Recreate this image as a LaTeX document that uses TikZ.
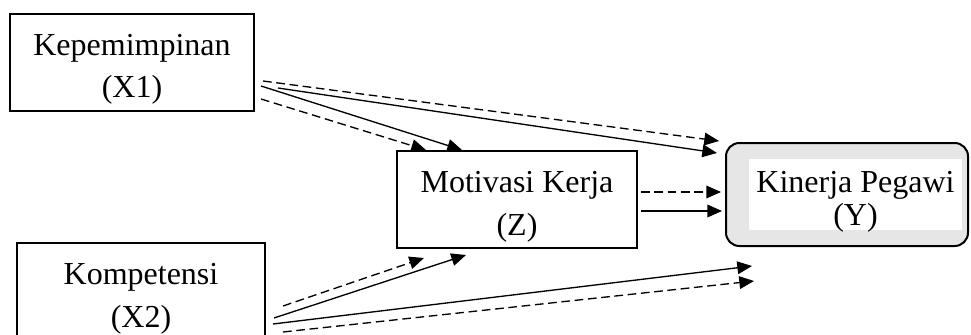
\documentclass[tikz,border=0pt]{standalone}
\usepackage{fontspec}
\setmainfont{Liberation Serif}
\usepackage{xcolor}
\definecolor{ink}{RGB}{0,0,0}
\definecolor{shade}{RGB}{230,230,230}
\usepackage{tikz}
\usetikzlibrary{arrows.meta,calc}
\tikzset{
  %% Variable boxes
  varbox/.style={
    draw=ink, line width=1.5pt, fill=white,
    align=center, font=\fontsize{24}{32}\selectfont,
    inner xsep=0pt, inner ysep=0pt,
    minimum height=72.75pt, text height=63pt, text depth=9.75pt,
  },
  %% Dependent variable box
  outbox/.style={
    draw=ink, line width=1.5pt, fill=shade,
    rounded corners=10pt,
    minimum width=181.5pt, minimum height=77.25pt,
  },
  outtext/.style={
    fill=white, align=center, font=\fontsize{24}{24.75}\selectfont,
    inner sep=0pt, minimum width=159.75pt,
    text height=49.5pt, text depth=3.75pt,
  },
  %% Paths
  link/.style={draw=ink, line width=1pt, -{Triangle[length=11pt,width=9.5pt]}},
  linkd/.style={link, dash pattern=on 6.5pt off 3.5pt},
}

\begin{document}
\begin{tikzpicture}[x=0.75pt,y=-0.75pt]
\clip (0,0) rectangle (971,335);

\node[varbox,minimum width=183pt] (X1) at (132,62.5) {Kepemimpinan\\(X1)};
\node[varbox,minimum width=180pt] (Z) at (517,199.5) {Motivasi Kerja\\(Z)};
\node[varbox,minimum width=186pt] (X2) at (141,291.5) {Kompetensi\\(X2)};
\node[outbox] (Y) at (847,194.5) {};
\node[outtext] (Yin) at (855.5,194.5) {Kinerja Pegawi\\(Y)};

\coordinate (free1) at ($(Y.south west)+(27,19)$);
\coordinate (free2) at ($(Y.south west)+(29,34)$);

%% X1
\draw[linkd] ($(X1.south east)+(6,-13)$) -- ($(Z.north west)+(30,0)$);
\draw[link]  ($(X1.south east)+(6,-26)$) -- ($(Z.north west)+(66,0)$);
\draw[linkd] ($(X1.south east)+(8,-31)$) -- ($(Y.north west)+(-6,-1)$);
\draw[link]  ($(X1.south east)+(23,-24)$) -- ($(Y.north west)+(-8,11)$);
%% Z
\draw[linkd] ($(Z.east)+(3,-7.5)$) -- ($(Y.west)+(-4,-2.5)$);
\draw[link]  ($(Z.east)+(3,11.5)$) -- ($(Y.west)+(-3,16.5)$);
%% X2
\draw[linkd] ($(X2.north east)+(17,64)$) -- ($(Z.south west)+(28,9)$);
\draw[link]  ($(X2.north east)+(8,76)$) -- ($(Z.south west)+(70,6)$);
\draw[link]  ($(X2.north east)+(7,82)$) -- (free1);
\draw[linkd] ($(X2.north east)+(17,90)$) -- (free2);
\end{tikzpicture}
\end{document}
